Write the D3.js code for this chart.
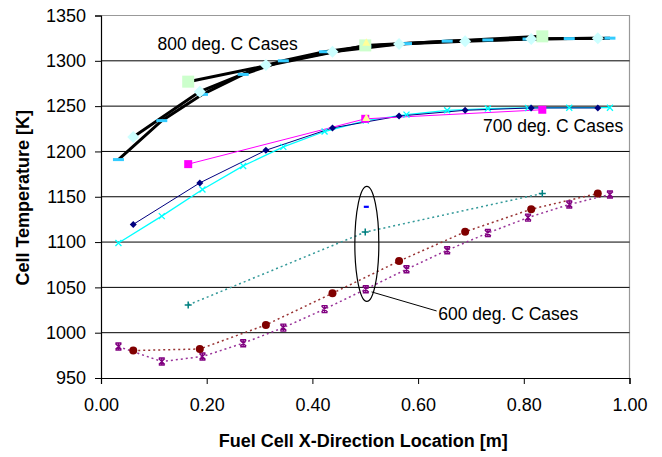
<!DOCTYPE html>
<html>
<head>
<meta charset="utf-8">
<script src="https://cdn.jsdelivr.net/npm/d3@7"></script>
<style>
  body { margin: 0; background: #fff; }
  text { font-family: "Liberation Sans", Arial, sans-serif; }
</style>
</head>
<body>
<div class="chart"></div>
<script>
// chart size
var svgWidth = 662;
var svgHeight = 457;

var margin = { top: 15.5, right: 32.5, bottom: 79, left: 101 };
var width = svgWidth - margin.left - margin.right;
var height = svgHeight - margin.top - margin.bottom;

// data
var xTicks = [0, 0.2, 0.4, 0.6, 0.8, 1.0];
var yTicks = [950, 1000, 1050, 1100, 1150, 1200, 1250, 1300, 1350];

// 13 point meshes
var xFine = [0.033, 0.115, 0.192, 0.269, 0.345, 0.423, 0.501, 0.578, 0.655, 0.732, 0.808, 0.886, 0.963];
// 8 point meshes
var xMid = [0.061, 0.187, 0.312, 0.438, 0.564, 0.689, 0.814, 0.940];
// 3 point meshes
var xCoarse = [0.165, 0.50, 0.835];
// single point
var xOne = [0.502];

var t800Fine = [1191, 1234, 1263, 1285, 1300, 1310, 1316, 1319, 1321.7, 1323, 1324, 1324.5, 1325];
var t800Mid = [1216, 1266, 1295.5, 1310, 1318.5, 1321.7, 1324, 1325];
var t800Coarse = [1277, 1317, 1327];
var t800One = [1320];

var t700Fine = [1099, 1128.6, 1158, 1184, 1205, 1222, 1234, 1240.6, 1245.4, 1247.3, 1248, 1248.3, 1248.3];
var t700Mid = [1119.5, 1165.3, 1201.3, 1226, 1239, 1245.4, 1248, 1248];
var t700Coarse = [1186, 1236, 1246];
var t700One = [1237];

var t600Fine = [984.7, 968.2, 973.7, 988.4, 1005.6, 1026, 1048, 1070, 1091, 1110, 1127, 1141.5, 1152.5];
var t600Mid = [980.3, 982, 1008.6, 1043.5, 1079, 1111.3, 1136.3, 1153.6];
var t600Coarse = [1030.6, 1111, 1153.6];
var t600One = [1139];

function zip(xs, ys) {
  return xs.map(function(x, i) { return { x: x, y: ys[i] }; });
}

var series = [
  { data: zip(xFine, t800Fine), line: "#000", lw: 3, dash: null, marker: "dash", color: "#33ccff" },
  { data: zip(xMid, t800Mid), line: "#000", lw: 3, dash: null, marker: "diamondBig", color: "#ccffff" },
  { data: zip(xCoarse, t800Coarse), line: "#000", lw: 3, dash: null, marker: "squareBig", color: "#ccffcc" },
  { data: zip(xOne, t800One), line: null, marker: "triangle", color: "#ffff99" },

  { data: zip(xFine, t700Fine), line: "#00ffff", lw: 1.3, dash: null, marker: "x", color: "#00ffff" },
  { data: zip(xMid, t700Mid), line: "#000080", lw: 1, dash: null, marker: "diamond", color: "#000080" },
  { data: zip(xCoarse, t700Coarse), line: "#ff00ff", lw: 1, dash: null, marker: "square", color: "#ff00ff" },
  { data: zip(xOne, t700One), line: null, marker: "triangle", color: "#ffff99" },

  { data: zip(xFine, t600Fine), line: "#993399", lw: 1.5, dash: "2,3", marker: "star", color: "#800080" },
  { data: zip(xMid, t600Mid), line: "#993333", lw: 1.5, dash: "2,3", marker: "circle", color: "#800000" },
  { data: zip(xCoarse, t600Coarse), line: "#339999", lw: 1.5, dash: "2,3", marker: "plus", color: "#008080" },
  { data: zip(xOne, t600One), line: null, marker: "dashSmall", color: "#0000ff" }
];

var svg = d3.select(".chart")
  .append("svg")
  .attr("width", svgWidth)
  .attr("height", svgHeight);

svg.append("rect").attr("width", svgWidth).attr("height", svgHeight).attr("fill", "#fff");

var chartGroup = svg.append("g")
  .attr("transform", `translate(${margin.left}, ${margin.top})`);

var xScale = d3.scaleLinear().domain([0, 1]).range([0, width]);
var yScale = d3.scaleLinear().domain([950, 1350]).range([height, 0]);

// plot frame (top and right in gray)
chartGroup.append("path")
  .attr("d", `M0,0H${width}V${height}`)
  .attr("fill", "none")
  .attr("stroke", "#999")
  .attr("stroke-width", 1.2);

// gridlines
chartGroup.selectAll(".grid")
  .data(yTicks.filter(function(d) { return d > 950 && d < 1350; }))
  .enter().append("line")
  .attr("x1", 0).attr("x2", width)
  .attr("y1", function(d) { return yScale(d); })
  .attr("y2", function(d) { return yScale(d); })
  .attr("stroke", "#000")
  .attr("stroke-width", 1);

// axes
var leftAxis = d3.axisLeft(yScale).tickValues(yTicks).tickSize(6).tickPadding(9).tickFormat(d3.format("d"));
var bottomAxis = d3.axisBottom(xScale).tickValues(xTicks).tickSize(6).tickPadding(14).tickFormat(d3.format(".2f"));

var yAxisG = chartGroup.append("g").call(leftAxis);
var xAxisG = chartGroup.append("g").attr("transform", `translate(0, ${height})`).call(bottomAxis);

[yAxisG, xAxisG].forEach(function(g) {
  g.select(".domain").attr("stroke", "#000").attr("stroke-width", 1.2);
  g.selectAll(".tick line").attr("stroke", "#000");
  g.selectAll(".tick text")
    .attr("fill", "#000")
    .style("font-family", "Liberation Sans, Arial, sans-serif")
    .style("font-size", "18px");
});

// lines
var lineGen = d3.line()
  .x(function(d) { return xScale(d.x); })
  .y(function(d) { return yScale(d.y); });

series.forEach(function(s) {
  if (!s.line) return;
  chartGroup.append("path")
    .datum(s.data)
    .attr("d", lineGen)
    .attr("fill", "none")
    .attr("stroke", s.line)
    .attr("stroke-width", s.lw)
    .attr("stroke-dasharray", s.dash);
});

// markers
function drawMarker(g, type, color) {
  if (type === "dash") {
    g.append("rect").attr("x", -5.5).attr("y", -1.5).attr("width", 11).attr("height", 3).attr("fill", color);
  } else if (type === "dashSmall") {
    g.append("rect").attr("x", -2.5).attr("y", -1).attr("width", 5).attr("height", 2.2).attr("fill", color);
  } else if (type === "diamondBig") {
    g.append("path").attr("d", "M0,-6L6,0L0,6L-6,0Z").attr("fill", color);
  } else if (type === "diamond") {
    g.append("path").attr("d", "M0,-3.5L3.5,0L0,3.5L-3.5,0Z").attr("fill", color);
  } else if (type === "squareBig") {
    g.append("rect").attr("x", -6).attr("y", -6).attr("width", 12).attr("height", 12).attr("fill", color);
  } else if (type === "square") {
    g.append("rect").attr("x", -4).attr("y", -4).attr("width", 8).attr("height", 8).attr("fill", color);
  } else if (type === "triangle") {
    g.append("path").attr("d", "M0,-4.5L4,3L-4,3Z").attr("fill", color);
  } else if (type === "circle") {
    g.append("circle").attr("r", 4).attr("fill", color);
  } else if (type === "x") {
    g.append("path").attr("d", "M-3,-3L3,3M3,-3L-3,3").attr("stroke", color).attr("stroke-width", 1.3);
  } else if (type === "plus") {
    g.append("path").attr("d", "M-3.5,0H3.5M0,-3.5V3.5").attr("stroke", color).attr("stroke-width", 1.5);
  } else if (type === "star") {
    g.append("path").attr("d", "M-3,-3L3,3M3,-3L-3,3M-3,-3.5H3M-3,3.5H3M0,-3V3").attr("stroke", color).attr("stroke-width", 1.4);
  }
}

series.forEach(function(s) {
  chartGroup.selectAll(null)
    .data(s.data)
    .enter().append("g")
    .attr("transform", function(d) { return `translate(${xScale(d.x)}, ${yScale(d.y)})`; })
    .each(function() { drawMarker(d3.select(this), s.marker, s.color); });
});

// annotations
var labelSize = "17.5px";
chartGroup.append("text")
  .attr("x", xScale(0.107)).attr("y", yScale(1312))
  .style("font-size", labelSize).text("800 deg. C Cases");

chartGroup.append("text")
  .attr("x", xScale(0.723)).attr("y", yScale(1221))
  .style("font-size", labelSize).text("700 deg. C Cases");

chartGroup.append("text")
  .attr("x", xScale(0.638)).attr("y", yScale(1014))
  .style("font-size", labelSize).text("600 deg. C Cases");

chartGroup.append("ellipse")
  .attr("cx", xScale(0.503)).attr("cy", yScale(1098))
  .attr("rx", 12).attr("ry", 57.5)
  .attr("fill", "none").attr("stroke", "#000").attr("stroke-width", 1.2);

chartGroup.append("line")
  .attr("x1", xScale(0.512)).attr("y1", yScale(1045))
  .attr("x2", xScale(0.635)).attr("y2", yScale(1024))
  .attr("stroke", "#000").attr("stroke-width", 1);

// axis titles
svg.append("text")
  .attr("x", margin.left + width / 2 - 2)
  .attr("y", 447)
  .attr("text-anchor", "middle")
  .style("font-size", "18px")
  .style("font-weight", "bold")
  .text("Fuel Cell X-Direction Location [m]");

svg.append("text")
  .attr("transform", `translate(29, ${margin.top + height / 2 + 1}) rotate(-90)`)
  .attr("text-anchor", "middle")
  .style("font-size", "18px")
  .style("font-weight", "bold")
  .text("Cell Temperature [K]");
</script>
</body>
</html>
